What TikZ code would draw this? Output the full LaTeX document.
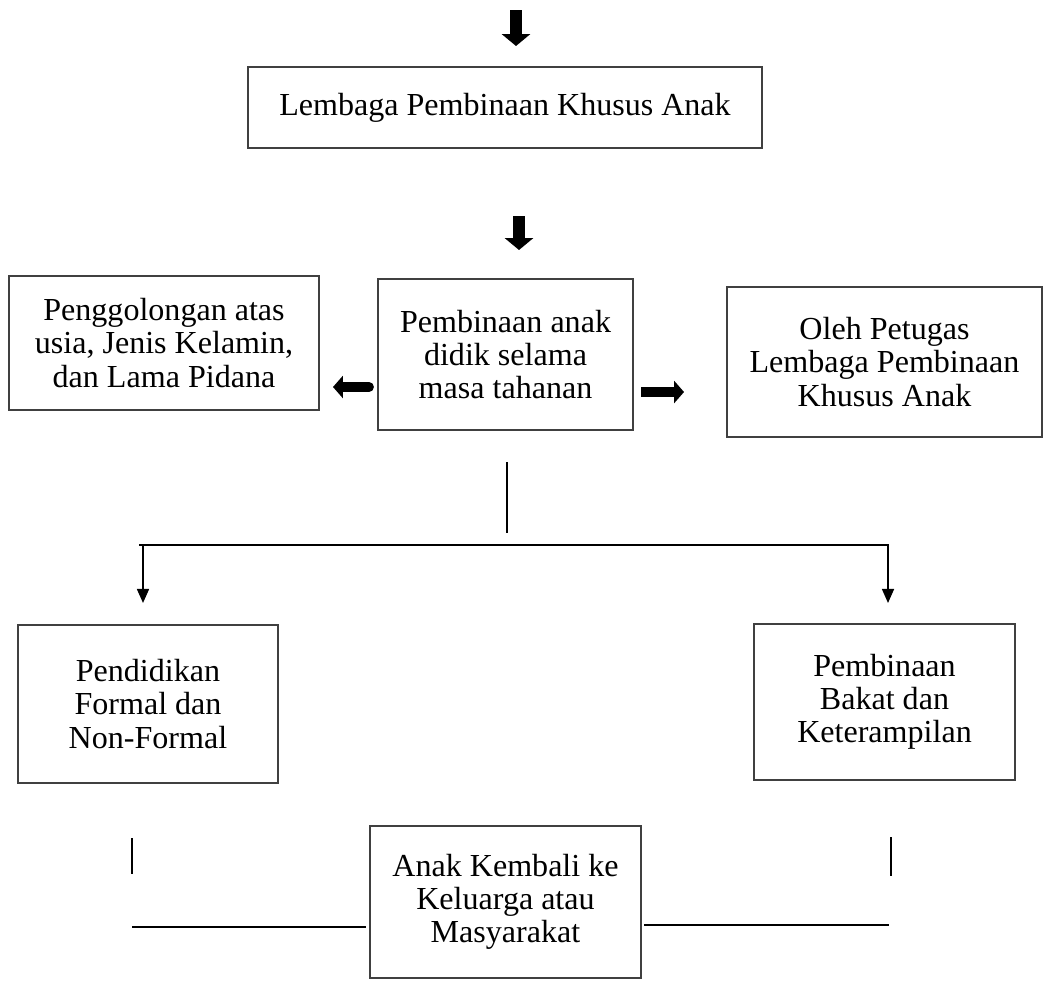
\documentclass[tikz,border=0pt]{standalone}
\usepackage{fontspec}
\setmainfont{Liberation Serif}
\usepackage{tikz}
\usetikzlibrary{arrows.meta}

\begin{document}
\begin{tikzpicture}[x=0.025cm,y=-0.025cm]
\tikzset{box/.style={draw=black!75,line width=0.9pt,rectangle,inner sep=0pt,align=center,font=\fontsize{22.8}{23.5}\selectfont},
fatdown/.style={line width=8.5pt,-{Triangle[width=20pt,length=8.5pt]}},
fatside/.style={line width=7pt,-{Triangle[width=15.6pt,length=7pt]}},
thin/.style={line width=1.3pt}}
\useasboundingbox (0,0) rectangle (1044,980);

\node (lpka) at (505,107.5) [box,minimum width=12.85cm,minimum height=2.025cm] {Lembaga Pembinaan Khusus Anak};
\node (golong) at (164,343) [box,minimum width=7.75cm,minimum height=3.35cm] {Penggolongan atas\\ usia, Jenis Kelamin,\\ dan Lama Pidana};
\node (bina) at (505.5,354.5) [box,minimum width=6.375cm,minimum height=3.775cm] {Pembinaan anak\\ didik selama\\ masa tahanan};
\node (petugas) at (884.5,362) [box,minimum width=7.875cm,minimum height=3.75cm] {Oleh Petugas\\ Lembaga Pembinaan\\ Khusus Anak};
\node (didik) at (148,704) [box,minimum width=6.5cm,minimum height=3.95cm] {Pendidikan\\ Formal dan\\ Non-Formal};
\node (bakat) at (884.5,702) [box,minimum width=6.525cm,minimum height=3.9cm] {Pembinaan\\ Bakat dan\\ Keterampilan};
\node (kembali) at (505.5,902) [box,minimum width=6.775cm,minimum height=3.8cm] {Anak Kembali ke\\ Keluarga atau\\ Masyarakat};

\coordinate (a1) at (516,10);
\coordinate (a2) at (516,46);
\coordinate (b1) at (519,216);
\coordinate (b2) at (519,250);
\coordinate (c1) at (369,387);
\coordinate (c2) at (333,387);
\coordinate (d1) at (641,392);
\coordinate (d2) at (684,392);
\coordinate (v1) at (507,462);
\coordinate (v2) at (507,533);
\coordinate (hl) at (139,545);
\coordinate (hr) at (889,545);
\coordinate (l1) at (143,545);
\coordinate (l2) at (143,603);
\coordinate (r1) at (888,545);
\coordinate (r2) at (888,603);
\coordinate (p1) at (132,838);
\coordinate (p2) at (132,874);
\coordinate (p3) at (132,927);
\coordinate (p4) at (366,927);
\coordinate (q1) at (891,837);
\coordinate (q2) at (891,876);
\coordinate (q3) at (644,925);
\coordinate (q4) at (889,925);

\path
(a1) edge [fatdown] (a2)
(b1) edge [fatdown] (b2)
(c1) edge [fatside,line cap=round] (c2)
(d1) edge [fatside] (d2)
(v1) edge [thin] (v2)
(hl) edge [thin] (hr)
(l1) edge [thin,-{Triangle[width=8.5pt,length=10pt]}] (l2)
(r1) edge [thin,-{Triangle[width=8.5pt,length=10pt]}] (r2)
(p1) edge [thin] (p2)
(p3) edge [thin] (p4)
(q1) edge [thin] (q2)
(q3) edge [thin] (q4);
\end{tikzpicture}
\end{document}
